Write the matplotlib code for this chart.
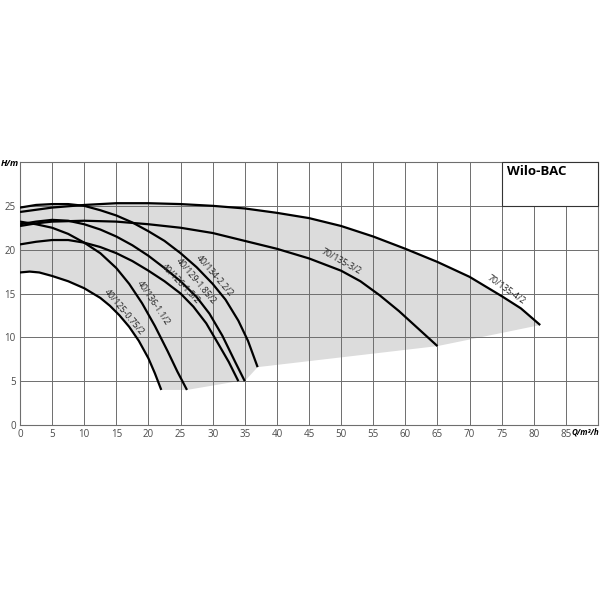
import numpy as np
import matplotlib.pyplot as plt
from matplotlib.patches import Polygon, Rectangle

# pump curves Q [m3/h] -> H [m]
q_075 = [0, 1.5, 3, 5, 7.5, 10, 12.5, 14, 15.5, 17, 18.5, 20, 21, 22]
h_075 = [17.4, 17.5, 17.4, 17.0, 16.4, 15.6, 14.5, 13.6, 12.5, 11.2, 9.6, 7.6, 5.9, 4.0]

q_11 = [0, 2.5, 5, 7.5, 10, 12.5, 15, 17, 19, 21, 23, 24.5, 26]
h_11 = [23.2, 22.9, 22.5, 21.8, 20.8, 19.6, 17.9, 16.1, 13.9, 11.3, 8.4, 6.1, 4.0]

q_15 = [0, 2.5, 5, 7.5, 10, 12.5, 15, 17.5, 20, 22.5, 25, 27, 29, 31, 32.5, 34]
h_15 = [20.6, 20.9, 21.1, 21.1, 20.8, 20.3, 19.6, 18.7, 17.6, 16.4, 15.0, 13.5, 11.6, 9.1, 7.2, 5.0]

q_185 = [0, 2.5, 5, 7.5, 10, 12.5, 15, 17.5, 20, 22.5, 25, 27.5, 29.5, 31.5, 33.5, 35]
h_185 = [22.9, 23.2, 23.4, 23.3, 22.9, 22.3, 21.5, 20.5, 19.3, 17.9, 16.4, 14.6, 12.7, 10.2, 7.2, 5.0]

q_22 = [0, 2.5, 5, 7.5, 10, 12.5, 15, 17.5, 20, 22.5, 25, 27.5, 30, 32, 34, 35.5, 37]
h_22 = [24.8, 25.1, 25.2, 25.2, 25.0, 24.5, 23.9, 23.1, 22.1, 21.0, 19.6, 18.0, 16.1, 14.3, 11.9, 9.6, 6.6]

q_3 = [0, 2.5, 5, 10, 15, 20, 25, 30, 35, 40, 45, 50, 53, 56, 59, 62, 65]
h_3 = [22.7, 23.0, 23.2, 23.3, 23.2, 22.9, 22.5, 21.9, 21.0, 20.1, 19.0, 17.6, 16.4, 14.8, 13.0, 11.0, 9.0]

q_4 = [0, 5, 10, 15, 20, 25, 30, 35, 40, 45, 50, 55, 60, 65, 70, 75, 78, 81]
h_4 = [24.3, 24.8, 25.1, 25.3, 25.3, 25.2, 25.0, 24.7, 24.2, 23.6, 22.7, 21.5, 20.1, 18.6, 16.9, 14.7, 13.3, 11.4]

curves = [(q_075, h_075), (q_11, h_11), (q_15, h_15), (q_185, h_185),
          (q_22, h_22), (q_3, h_3), (q_4, h_4)]

names = ['40/125-0.75/2', '40/136-1.1/2', '40/126-1.5/2', '40/129-1.85/2',
         '40/134-2.2/2', '70/135-3/2', '70/135-4/2']
label_q = [15.7, 20.2, 24.4, 26.9, 29.8, 49.6, 75.3]
label_h = [12.5, 13.6, 15.7, 16.1, 16.7, 18.2, 15.0]
label_rot = [-50, -56, -46, -50, -49, -29, -35]

x_ticks = list(range(0, 90, 5))
y_ticks = list(range(0, 30, 5))

fill_col = '#dcdcdc'
grid_col = '#6e6e6e'

fig = plt.figure(figsize=(6, 6), dpi=100)
ax = fig.add_axes([20/600, 1-425/600, 578/600, 263/600])
ax.set_xlim(0, 90)
ax.set_ylim(0, 30)

# shaded operating field: upper envelope, curve end points, smallest curve
top = [(q, h) for q, h in zip(q_22, h_22) if q < 10] + \
      [(q, h) for q, h in zip(q_4, h_4) if q >= 10]
ends = sorted([(c[0][-1], c[1][-1]) for c in curves], reverse=True)
low = list(zip(q_075, h_075))[::-1]
ax.add_patch(Polygon(top + ends + low, closed=True, facecolor=fill_col,
                     edgecolor='none', zorder=1))

ax.set_xticks(x_ticks)
ax.set_yticks(y_ticks)
ax.grid(True, color=grid_col, linewidth=0.7, zorder=2)
ax.set_axisbelow(False)
ax.tick_params(length=0, labelsize=7, labelcolor='#4a4a4a', pad=3)
for lab in ax.get_xticklabels() + ax.get_yticklabels():
    lab.set_family('Open Sans')
for s in ax.spines.values():
    s.set_color(grid_col)
    s.set_linewidth(0.8)

for (q, h) in curves:
    ax.plot(q, h, color='black', linewidth=1.6, zorder=4, solid_capstyle='butt')

# labels sit just above/right of their curve
for name, x, y, r in zip(names, label_q, label_h, label_rot):
    a = np.radians(r)
    off = (-np.sin(a) * 3.5, np.cos(a) * 3.5)
    ax.annotate(name, (x, y), xytext=off, textcoords='offset points',
                rotation=r, rotation_mode='anchor', ha='center', va='center',
                fontsize=6.3, family='Open Sans', color='#222222', zorder=5)

ax.add_patch(Rectangle((75, 25), 15, 5, facecolor='white', edgecolor='#333333',
                       linewidth=0.8, zorder=6, clip_on=False))
ax.text(75.9, 28.9, 'Wilo-BAC', fontsize=9.5, fontweight='bold',
        family='Open Sans', va='center', ha='left', zorder=7)

ax.text(90.2, -0.85, 'Q/m³/h', fontsize=5.8, fontweight='bold', style='italic',
        family='Open Sans', ha='right', va='center', clip_on=False)
fig.text(0.001, 1-163/600, 'H/m', fontsize=6.5, fontweight='bold', style='italic',
         family='Open Sans', ha='left', va='center')

fig.savefig('out.png', dpi=100, facecolor='white')
